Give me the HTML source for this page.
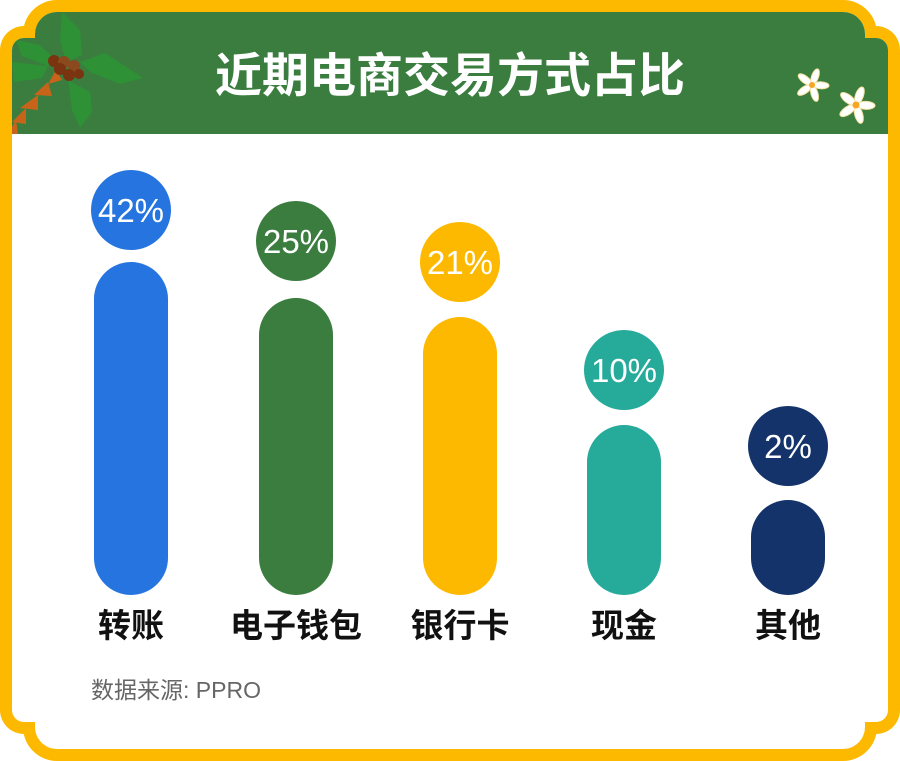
<!DOCTYPE html>
<html><head><meta charset="utf-8"><style>
html,body{margin:0;padding:0;background:#fff;}
svg{display:block;}
</style></head><body>
<svg width="900" height="761" viewBox="0 0 900 761" xmlns="http://www.w3.org/2000/svg">
<defs>
<clipPath id="inner">
<rect x="12" y="38" width="876" height="684" rx="12"/>
<rect x="35" y="12" width="830" height="737" rx="22"/>
</clipPath>
</defs>
<g fill="#FDB900">
<rect x="0" y="26" width="900" height="708" rx="24"/>
<rect x="23" y="0" width="854" height="761" rx="34"/>
</g>
<g clip-path="url(#inner)">
<rect x="0" y="0" width="900" height="761" fill="#fff"/>
<rect x="0" y="0" width="900" height="134" fill="#3A7D3F"/>
<g fill="#2E9135">
<path d="M62 12 L80 30 L82 55 L66 62 L60 40 Z"/>
<path d="M16 40 L40 45 L56 60 L48 66 L22 56 Z"/>
<path d="M12 62 L48 66 L42 78 L14 82 Z"/>
<path d="M80 62 L105 53 L143 78 L120 84 L90 72 Z"/>
<path d="M68 80 L90 92 L92 112 L80 128 L72 110 Z"/>
</g>
<g fill="#C8641A">
<path d="M56 70 L62 80 L48 84 Z"/>
<path d="M48 82 L52 96 L34 95 Z"/>
<path d="M38 95 L38 110 L20 108 Z"/>
<path d="M26 108 L26 124 L12 122 Z"/>
<path d="M16 120 L18 134 L8 134 Z"/>
</g>
<g fill="#7A3410">
<circle cx="54" cy="61" r="6"/><circle cx="64" cy="62" r="6" fill="#8B4A1E"/>
<circle cx="60" cy="69" r="6"/><circle cx="74" cy="66" r="6" fill="#8B4A1E"/>
<circle cx="69" cy="75" r="6"/><circle cx="79" cy="74" r="5"/>
</g>
</g>
<g fill="#fff" stroke="#F5E3A0" stroke-width="1">
<g transform="translate(812,85)">
<ellipse cx="0" cy="-9" rx="3.5" ry="8" transform="rotate(20)"/>
<ellipse cx="0" cy="-9" rx="3.5" ry="8" transform="rotate(92)"/>
<ellipse cx="0" cy="-9" rx="3.5" ry="8" transform="rotate(164)"/>
<ellipse cx="0" cy="-9" rx="3.5" ry="8" transform="rotate(236)"/>
<ellipse cx="0" cy="-9" rx="3.5" ry="8" transform="rotate(308)"/>
<circle r="3" fill="#F5A623" stroke="none"/>
</g>
<g transform="translate(856,105)">
<ellipse cx="0" cy="-10" rx="4" ry="9" transform="rotate(20)"/>
<ellipse cx="0" cy="-10" rx="4" ry="9" transform="rotate(92)"/>
<ellipse cx="0" cy="-10" rx="4" ry="9" transform="rotate(164)"/>
<ellipse cx="0" cy="-10" rx="4" ry="9" transform="rotate(236)"/>
<ellipse cx="0" cy="-10" rx="4" ry="9" transform="rotate(308)"/>
<circle r="3.5" fill="#F5A623" stroke="none"/>
</g>
</g>
<text x="450" y="92" text-anchor="middle" fill="#fff" font-family="'Liberation Sans','Noto Sans CJK SC',sans-serif" font-weight="bold" font-size="47">近期电商交易方式占比</text>
<g font-family="'Liberation Sans',sans-serif" font-size="33" fill="#fff" text-anchor="middle">
<rect x="94" y="262" width="74" height="333" rx="37" fill="#2674DF"/>
<circle cx="131" cy="210" r="40" fill="#2674DF"/><text x="131" y="222">42%</text>
<rect x="259" y="298" width="74" height="297" rx="37" fill="#3A7D3F"/>
<circle cx="296" cy="241" r="40" fill="#3A7D3F"/><text x="296" y="253">25%</text>
<rect x="423" y="317" width="74" height="278" rx="37" fill="#FDB900"/>
<circle cx="460" cy="262" r="40" fill="#FDB900"/><text x="460" y="274">21%</text>
<rect x="587" y="425" width="74" height="170" rx="37" fill="#26AB9B"/>
<circle cx="624" cy="370" r="40" fill="#26AB9B"/><text x="624" y="382">10%</text>
<rect x="751" y="500" width="74" height="95" rx="37" fill="#13336A"/>
<circle cx="788" cy="446" r="40" fill="#13336A"/><text x="788" y="458">2%</text>
</g>
<g font-family="'Liberation Sans','Noto Sans CJK SC',sans-serif" font-size="33" font-weight="bold" fill="#111" text-anchor="middle">
<text x="131" y="637">转账</text>
<text x="296" y="637">电子钱包</text>
<text x="460" y="637">银行卡</text>
<text x="624" y="637">现金</text>
<text x="788" y="637">其他</text>
</g>
<text x="91" y="698" font-family="'Liberation Sans','Noto Sans CJK SC',sans-serif" font-size="23" fill="#666">数据来源: PPRO</text>
</svg>
</body></html>
